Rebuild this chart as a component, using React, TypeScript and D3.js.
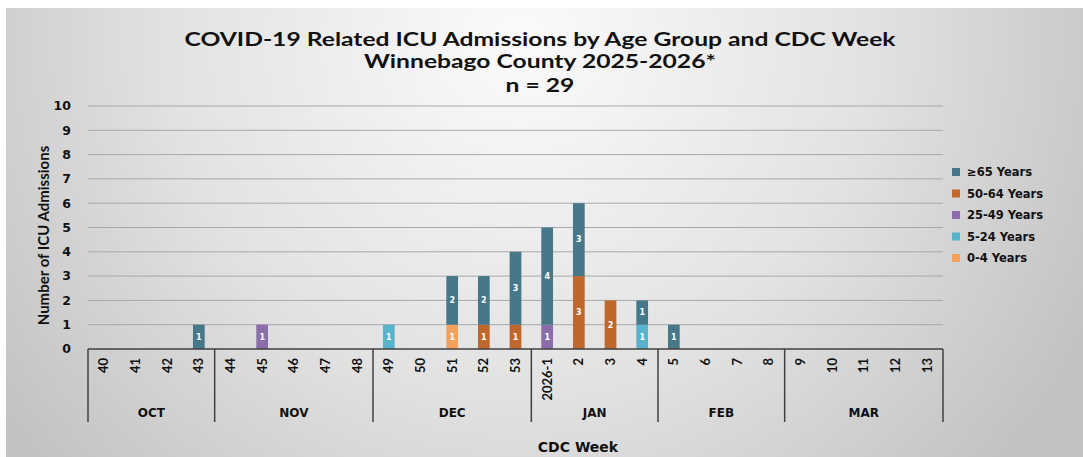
import React from 'react';
import * as d3 from 'd3';

// CDC weeks shown along the x axis
const weeks = ['40', '41', '42', '43', '44', '45', '46', '47', '48', '49', '50', '51', '52', '53',
  '2026-1', '2', '3', '4', '5', '6', '7', '8', '9', '10', '11', '12', '13'];
const monthNames = ['OCT', 'NOV', 'DEC', 'JAN', 'FEB', 'MAR'];
const monthSpans = [4, 5, 5, 4, 4, 5];

const ageGroups = ['0-4 Years', '5-24 Years', '25-49 Years', '50-64 Years', '≥65 Years'];
const ageColors = ['#f2a15f', '#5ab3cd', '#8b6dab', '#c0672b', '#46788a'];

// counts per week, same order as weeks
const age0to4 = [0, 0, 0, 0, 0, 0, 0, 0, 0, 0, 0, 1, 0, 0, 0, 0, 0, 0, 0, 0, 0, 0, 0, 0, 0, 0, 0];
const age5to24 = [0, 0, 0, 0, 0, 0, 0, 0, 0, 1, 0, 0, 0, 0, 0, 0, 0, 1, 0, 0, 0, 0, 0, 0, 0, 0, 0];
const age25to49 = [0, 0, 0, 0, 0, 1, 0, 0, 0, 0, 0, 0, 0, 0, 1, 0, 0, 0, 0, 0, 0, 0, 0, 0, 0, 0, 0];
const age50to64 = [0, 0, 0, 0, 0, 0, 0, 0, 0, 0, 0, 0, 1, 1, 0, 3, 2, 0, 0, 0, 0, 0, 0, 0, 0, 0, 0];
const age65plus = [0, 0, 0, 1, 0, 0, 0, 0, 0, 0, 0, 2, 2, 3, 4, 3, 0, 1, 1, 0, 0, 0, 0, 0, 0, 0, 0];

const yTicks = [0, 1, 2, 3, 4, 5, 6, 7, 8, 9, 10];

const W = 1083;
const H = 457;
const left = 88;
const right = 943;
const top = 106;
const bottom = 349;

const verdana = '"DejaVu Sans", Verdana, sans-serif';
const calibri = 'Lato, "Open Sans", sans-serif';

export default function App() {
  const rows = weeks.map((w, i) => ({
    week: w,
    '0-4 Years': age0to4[i],
    '5-24 Years': age5to24[i],
    '25-49 Years': age25to49[i],
    '50-64 Years': age50to64[i],
    '≥65 Years': age65plus[i],
  }));

  const x = d3.scaleBand().domain(weeks).range([left, right]).paddingInner(0.63).paddingOuter(0.315);
  const y = d3.scaleLinear().domain([0, 10]).range([bottom, top]);
  const color = d3.scaleOrdinal<string, string>().domain(ageGroups).range(ageColors);
  const stacked = d3.stack<any>().keys(ageGroups)(rows);
  const step = x.step();

  // month boundaries
  let acc = 0;
  const months = monthNames.map((m, i) => {
    const start = acc;
    acc += monthSpans[i];
    return { name: m, x0: left + start * step, x1: left + acc * step };
  });

  const legendOrder = [...ageGroups].reverse();

  return (
    <svg width={W} height={H} style={{ position: 'absolute', left: 0, top: 0 }}>
      <defs>
        <radialGradient id="bg" gradientUnits="userSpaceOnUse" cx={520} cy={40} r={640}>
          <stop offset="0" stopColor="#fbfbfb" />
          <stop offset="0.55" stopColor="#e2e2e2" />
          <stop offset="1" stopColor="#c2c2c2" />
        </radialGradient>
      </defs>
      <rect x={0} y={0} width={W} height={H} fill="#ffffff" />
      <rect x={6} y={8} width={W - 6} height={H - 8} fill="url(#bg)" />

      {/* title, stretched wide like the original */}
      <g transform="translate(540,0) scale(1.37,1)" fontFamily={calibri} fontWeight="bold" fontSize={18}
        textAnchor="middle" fill="#111">
        <text x={0} y={46}>COVID-19 Related ICU Admissions by Age Group and CDC Week</text>
        <text x={0} y={68}>Winnebago County 2025-2026*</text>
        <text x={0} y={92}>n = 29</text>
      </g>

      {/* gridlines */}
      {yTicks.filter((t) => t > 0).map((t) => (
        <line key={t} x1={left} x2={right} y1={y(t)} y2={y(t)} stroke="#a8a8a8" strokeWidth={1} />
      ))}

      {/* y ticks */}
      {yTicks.map((t) => (
        <text key={t} x={71} y={y(t)} dy="0.35em" textAnchor="end" fontFamily={verdana}
          fontWeight="bold" fontSize={12.5} fill="#111">{t}</text>
      ))}

      <text transform={`translate(49,${(top + bottom) / 2 + 8}) rotate(-90)`} textAnchor="middle"
        fontFamily={calibri} fontWeight="bold" fontSize={15} fill="#111">Number of ICU Admissions</text>

      {/* bars */}
      {stacked.map((s) => (
        <g key={s.key} fill={color(s.key)}>
          {s.map((d, i) => (d[1] - d[0] > 0 ? (
            <g key={i}>
              <rect x={x(weeks[i])} y={y(d[1])} width={x.bandwidth()} height={y(d[0]) - y(d[1])} />
              <text x={(x(weeks[i]) as number) + x.bandwidth() / 2} y={(y(d[0]) + y(d[1])) / 2}
                dy="0.35em" textAnchor="middle" fontFamily={verdana} fontWeight="bold" fontSize={8}
                fill="#fff">{d[1] - d[0]}</text>
            </g>
          ) : null))}
        </g>
      ))}

      {/* axis */}
      <line x1={left} x2={right} y1={bottom} y2={bottom} stroke="#404040" strokeWidth={1.5} />
      {[left, ...months.map((m) => m.x1)].map((xx, i) => (
        <line key={i} x1={xx} x2={xx} y1={bottom} y2={422} stroke="#404040" strokeWidth={1.5} />
      ))}
      {weeks.map((w) => (
        <text key={w} transform={`translate(${(x(w) as number) + x.bandwidth() / 2},358) rotate(-90)`}
          dy="0.35em" textAnchor="end" fontFamily={calibri} fontWeight="bold" fontSize={13}
          fill="#111">{w}</text>
      ))}
      {months.map((m) => (
        <text key={m.name} x={(m.x0 + m.x1) / 2} y={417} textAnchor="middle" fontFamily={verdana}
          fontWeight="bold" fontSize={12} fill="#111">{m.name}</text>
      ))}
      <text x={578} y={452} textAnchor="middle" fontFamily={verdana} fontWeight="bold" fontSize={14}
        fill="#111">CDC Week</text>

      {/* legend */}
      {legendOrder.map((k, i) => (
        <g key={k} transform={`translate(952,${172 + i * 21.5})`}>
          <rect x={0} y={-4} width={8} height={8} fill={color(k)} />
          <text x={15} y={0} dy="0.35em" fontFamily={verdana} fontWeight="bold" fontSize={11.5}
            fill="#111">{k}</text>
        </g>
      ))}
    </svg>
  );
}
